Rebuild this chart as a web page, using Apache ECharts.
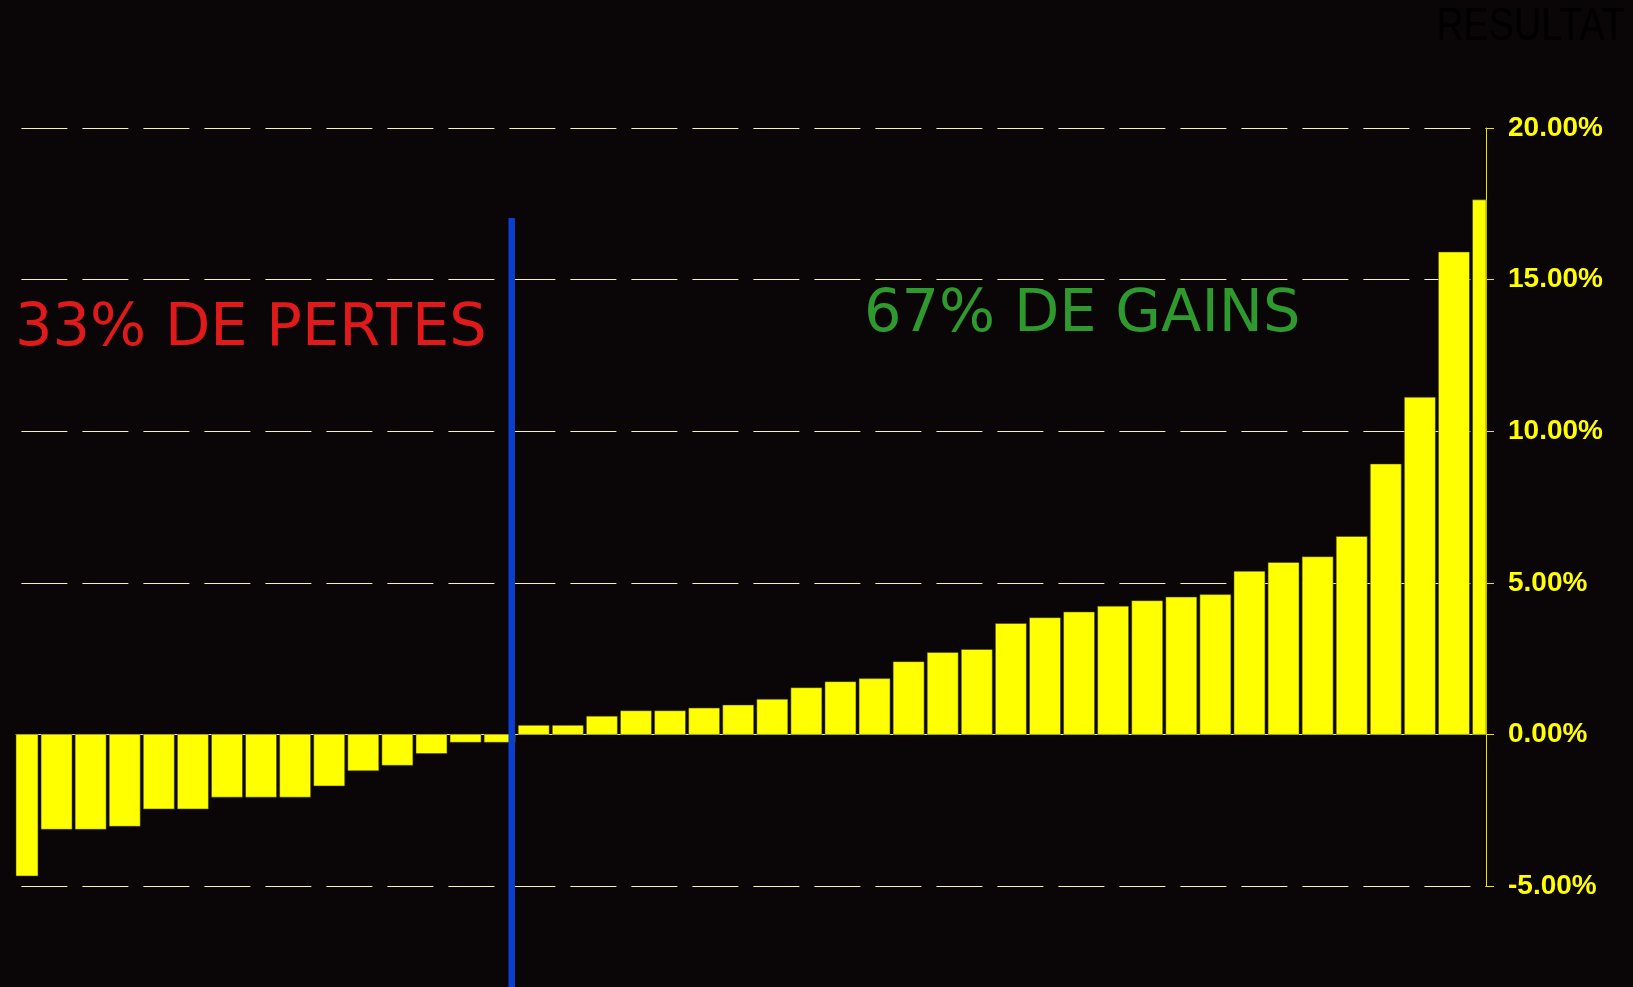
<!DOCTYPE html>
<html>
<head>
<meta charset="utf-8">
<title>RESULTAT</title>
<script src="https://cdn.jsdelivr.net/npm/echarts@6.0.0/dist/echarts.min.js"></script>
<style>
    html, body { margin: 0; padding: 0; background: #0a0506; }
    #resultat { width: 1633px; height: 987px; }
</style>
</head>
<body>
<div id="resultat"></div>
<script>
// résultats triés, en % (pertes puis gains)
let pertes = [-4.67, -3.13, -3.13, -3.03, -2.46, -2.46, -2.07, -2.07, -2.07, -1.70, -1.20, -1.02, -0.63, -0.26, -0.26];
let gains = [0.30, 0.30, 0.60, 0.78, 0.78, 0.87, 0.97, 1.16, 1.54, 1.74, 1.84, 2.40, 2.70, 2.80, 3.66,
    3.85, 4.04, 4.23, 4.41, 4.53, 4.61, 5.38, 5.67, 5.86, 6.53, 8.92, 11.12, 15.91, 17.63];
let yTicks = [-5, 0, 5, 10, 15, 20];
let labelPertes = '33% DE PERTES';
let labelGains = '67% DE GAINS';

function drawResultBar() {
    let myChart = echarts.init(document.getElementById('resultat'));
    let resultats = pertes.concat(gains);
    let barData = resultats.map(function (v, i) { return [i + 1, v]; });

    // barres coupées aux bords du graphique (premiere et derniere a moitie)
    function renderBar(params, api) {
        let x = api.value(0);
        let y = api.value(1);
        let base = api.coord([x, 0]);
        let top = api.coord([x, y]);
        let rect = echarts.graphic.clipRectByRect({
            x: base[0] - 15.5,
            y: Math.min(base[1], top[1]),
            width: 31,
            height: Math.abs(base[1] - top[1])
        }, {
            x: params.coordSys.x,
            y: params.coordSys.y,
            width: params.coordSys.width,
            height: params.coordSys.height
        });
        return rect && {
            type: 'rect',
            shape: rect,
            style: { fill: '#ffff00', stroke: '#3a3a00', lineWidth: 0.5 }
        };
    }

    let option = {
        backgroundColor: '#0a0506',
        animation: false,
        grid: {
            left: 16,
            right: 147,
            top: 128,
            bottom: 101
        },
        xAxis: {
            type: 'value',
            min: 0.81,
            max: 43.94,
            axisLine: { show: true, onZero: true, lineStyle: { color: '#e8e4b8', width: 1 } },
            axisTick: { show: false },
            axisLabel: { show: false },
            splitLine: { show: false }
        },
        yAxis: {
            type: 'value',
            position: 'right',
            min: yTicks[0],
            max: yTicks[yTicks.length - 1],
            interval: 5,
            axisLine: { show: true, onZero: false, lineStyle: { color: '#e6e600', width: 1 } },
            axisTick: { show: true, length: 8, lineStyle: { color: '#e6e600' } },
            axisLabel: {
                margin: 22,
                color: '#ffff00',
                fontSize: 28,
                fontWeight: 'bold',
                fontFamily: 'Liberation Sans, Arial',
                formatter: function (v) { return v.toFixed(2) + '%'; }
            },
            splitLine: {
                show: true,
                lineStyle: { color: '#f6f2b4', width: 1, type: [46, 15], dashOffset: 55.6 }
            }
        },
        series: [
            {
                name: 'Résultat',
                type: 'custom',
                renderItem: renderBar,
                encode: { x: 0, y: 1 },
                data: barData,
                z: 3
            }
        ],
        graphic: [
            {
                type: 'text',
                x: 1625,
                y: 4,
                scaleX: 0.82,
                style: {
                    text: 'RESULTAT',
                    fill: '#000000',
                    font: 'normal 46px Liberation Sans',
                    textAlign: 'right',
                    textVerticalAlign: 'top'
                }
            },
            {
                type: 'line',
                z: 100,
                shape: { x1: 511.7, y1: 218, x2: 511.7, y2: 987 },
                style: { stroke: '#0a3fd0', lineWidth: 6.5 }
            },
            {
                type: 'text',
                left: 15,
                top: 300,
                style: {
                    text: labelPertes,
                    fill: '#e01a1a',
                    font: 'normal 59px DejaVu Sans'
                }
            },
            {
                type: 'text',
                left: 864,
                top: 286,
                style: {
                    text: labelGains,
                    fill: '#2e9a2e',
                    font: 'normal 59px DejaVu Sans'
                }
            }
        ]
    };

    myChart.setOption(option);
}

drawResultBar();
</script>
</body>
</html>
